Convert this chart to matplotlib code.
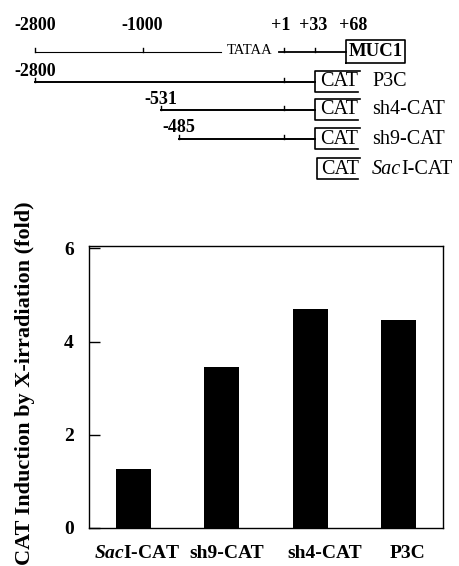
import matplotlib
matplotlib.use("Agg")
import matplotlib.pyplot as plt
from matplotlib.transforms import ScaledTranslation

plt.rcParams['font.family'] = ['Liberation Serif', 'DejaVu Serif']
plt.rcParams['mathtext.fontset'] = 'custom'
plt.rcParams['mathtext.it'] = 'Liberation Serif:italic:bold'
plt.rcParams['mathtext.rm'] = 'Liberation Serif:bold'

# bar chart data
constructs = [r"$\mathit{Sac}$I-CAT", "sh9-CAT", "sh4-CAT", "P3C"]
induction = [1.26, 3.46, 4.70, 4.47]
yticks = [0, 2, 4, 6]

# promoter map (schematic, pixel layout of the figure)
site_labels = ["-2800", "-1000", "+1", "+33", "+68"]
site_x = {"-2800": 35, "-1000": 143, "-531": 161, "-485": 179,
          "+1": 284, "+33": 315, "+68": 346}
rows = ["P3C", "sh4-CAT", "sh9-CAT", "SacI-CAT"]
row_start = ["-2800", "-531", "-485", None]
row_y = [82, 110, 139, 169]

fig = plt.figure(figsize=(4.6, 5.66), dpi=100)

# ---- top diagram, drawn in pixel coordinates ----
dg = fig.add_axes([0, 0, 1, 1])
dg.set_xlim(0, 460)
dg.set_ylim(566, 0)
dg.axis("off")

label_dx = {"-2800": 0, "-1000": -1, "+1": -3, "+33": -2, "+68": 7}
for s in site_labels:
    dg.text(site_x[s] + label_dx[s], 25, s, ha="center", va="center",
            fontsize=13, fontweight="bold")

# MUC1 row
y0 = 52
dg.plot([site_x["-2800"], 221], [y0, y0], color="k", lw=0.8)
dg.text(250, y0 - 1, "TATAA", ha="center", va="center", fontsize=10.5)
dg.plot([279, site_x["+68"]], [y0, y0], color="k", lw=1.3)
for s in ["-2800", "-1000", "+1", "+33"]:
    dg.plot([site_x[s], site_x[s]], [y0, y0 - 4], color="k", lw=1)
dg.plot([346, 346, 405, 405, 346], [63, 40, 40, 63, 63], color="k", lw=1.2)
dg.text(375.5, 52, "MUC1", ha="center", va="center", fontsize=13.5,
        fontweight="bold")

cat_x0, cat_x1 = 315, 360
for name, start, y in zip(rows, row_start, row_y):
    if start is not None:
        x0 = site_x[start]
        dg.plot([x0, cat_x0], [y, y], color="k", lw=1.4)
        dg.plot([x0, x0], [y, y - 4], color="k", lw=1)
        dg.plot([site_x["+1"], site_x["+1"]], [y, y - 4], color="k", lw=1)
        dg.text(x0, y - 11, start, ha="center", va="center", fontsize=13,
                fontweight="bold")
        bx = cat_x0
    else:
        bx = cat_x0 + 2
    dg.plot([cat_x1, bx, bx, cat_x1 - 2], [y - 11, y - 11, y + 10, y + 10],
            color="k", lw=1.2)
    dg.text((bx + cat_x1) / 2 + 1.5, y, "CAT", ha="center", va="center",
            fontsize=14.5)
    if name.startswith("Sac"):
        t = dg.text(372, y, "Sac", ha="left", va="center", fontsize=14.5,
                    style="italic")
        dg.annotate("I-CAT", xy=(1, 0), xycoords=t, ha="left", va="bottom",
                    fontsize=14.5)
    else:
        dg.text(372, y, name, ha="left", va="center", fontsize=14.5)

# ---- bar chart ----
ax = fig.add_axes([89 / 460, 38 / 566, 354 / 460, 282 / 566])
x = range(len(constructs))
ax.bar(x, induction, width=0.4, color="black")
ax.set_xlim(-0.5, 3.5)
ax.set_ylim(0, 6.05)
ax.set_yticks(yticks)
ax.set_yticklabels([str(v) for v in yticks], fontsize=14, fontweight="bold")
ax.set_xticks(list(x))
ax.set_xticklabels(constructs, fontsize=14, fontweight="bold")
ax.tick_params(axis="x", length=0, pad=12)
ax.tick_params(axis="y", direction="in", length=8, width=1, pad=11)
for sp in ax.spines.values():
    sp.set_linewidth(1)

shift = [4, 5, 14, 9]
for lbl, dx in zip(ax.get_xticklabels(), shift):
    lbl.set_transform(lbl.get_transform() +
                      ScaledTranslation(dx / 100, 0, fig.dpi_scale_trans))

ax.set_ylabel("CAT Induction by X-irradiation (fold)", fontsize=16,
              fontweight="bold")
ax.yaxis.set_label_coords(-0.153, 0.512)

fig.savefig("out.png", dpi=100)
